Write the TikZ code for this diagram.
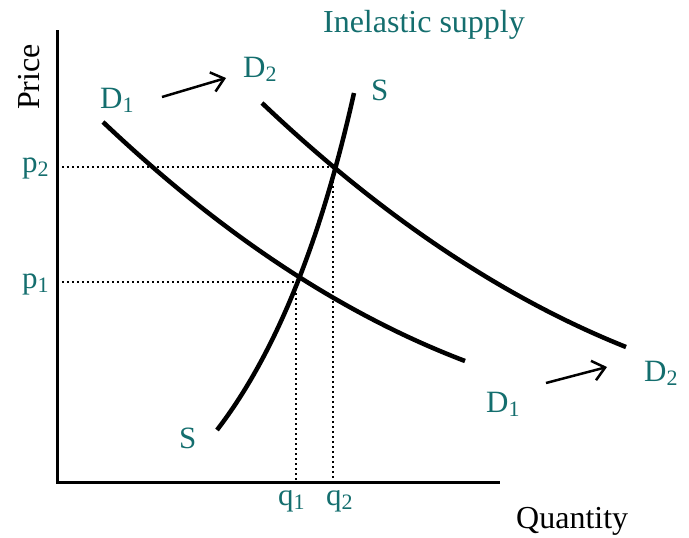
\documentclass[tikz,border=0pt]{standalone}
\usepackage{fontspec}
\setmainfont{Liberation Serif}
\usetikzlibrary{arrows.meta}
\definecolor{tealc}{RGB}{20,110,110}
\newcommand{\lowidx}[1]{\raisebox{-0.35ex}{\fontsize{22}{22}\selectfont #1}}
\begin{document}
\begin{tikzpicture}[x=1pt,y=-1pt,
  lbl/.style={inner sep=0pt,font=\fontsize{31}{31}\selectfont,text=tealc,anchor=base west},
  axislbl/.style={inner sep=0pt,font=\fontsize{32}{32}\selectfont,text=black},
  axis/.style={line width=3pt},
  curve/.style={line width=4.5pt},
  guide/.style={line width=1.8pt,dash pattern=on 1.8pt off 3.2pt},
  shiftarrow/.style={line width=2.5pt,-{Straight Barb[length=12pt,width=20pt,line width=2.5pt]}}]
\useasboundingbox (0,0) rectangle (689,538);
% axes
\coordinate (top) at (57,30);
\coordinate (origin) at (57,482);
\coordinate (right) at (500,482);
\draw[axis] (top) -- (origin) -- (right);
% intersection points
\coordinate (e1) at (296,282);
\coordinate (e2) at (333,167);
\coordinate (p1y) at (57,282);
\coordinate (p2y) at (57,167);
\coordinate (q1x) at (296,482);
\coordinate (q2x) at (333,482);
\draw[guide] (p2y) -- (e2) -- (q2x);
\draw[guide] (p1y) -- (e1) -- (q1x);
% curves
\draw[curve] (103,122) .. controls (221.7,234.7) and (342.3,314.3) .. (465,361);
\draw[curve] (262,103) .. controls (381.3,216.3) and (502.7,297.7) .. (626,347);
\draw[curve] (217,430) .. controls (275,354.7) and (320.7,242.3) .. (354,93);
% labels
\node[axislbl,text=tealc,anchor=base] (title) at (424,32) {Inelastic supply};
\node[axislbl,rotate=90] (price) at (29,77) {Price};
\node[axislbl,anchor=base west] (qty) at (516,528) {Quantity};
\node[lbl] (d1a) at (100,108) {D\lowidx{1}};
\node[lbl] (d2a) at (243,77) {D\lowidx{2}};
\node[lbl] (sa) at (371,100) {S};
\node[lbl] (sb) at (179,448) {S};
\node[lbl] (d1b) at (486,412) {D\lowidx{1}};
\node[lbl] (d2b) at (644,381) {D\lowidx{2}};
\node[lbl] (p2) at (22,172) {p\lowidx{2}};
\node[lbl] (p1) at (22,288) {p\lowidx{1}};
\node[lbl] (q1) at (278,505) {q\lowidx{1}};
\node[lbl] (q2) at (326,505) {q\lowidx{2}};
% shift arrows
\coordinate (a1s) at (162,97);
\coordinate (a1e) at (226,78);
\coordinate (a2s) at (546,383);
\coordinate (a2e) at (607,367);
\draw[shiftarrow] (a1s) -- (a1e);
\draw[shiftarrow] (a2s) -- (a2e);
\end{tikzpicture}
\end{document}
